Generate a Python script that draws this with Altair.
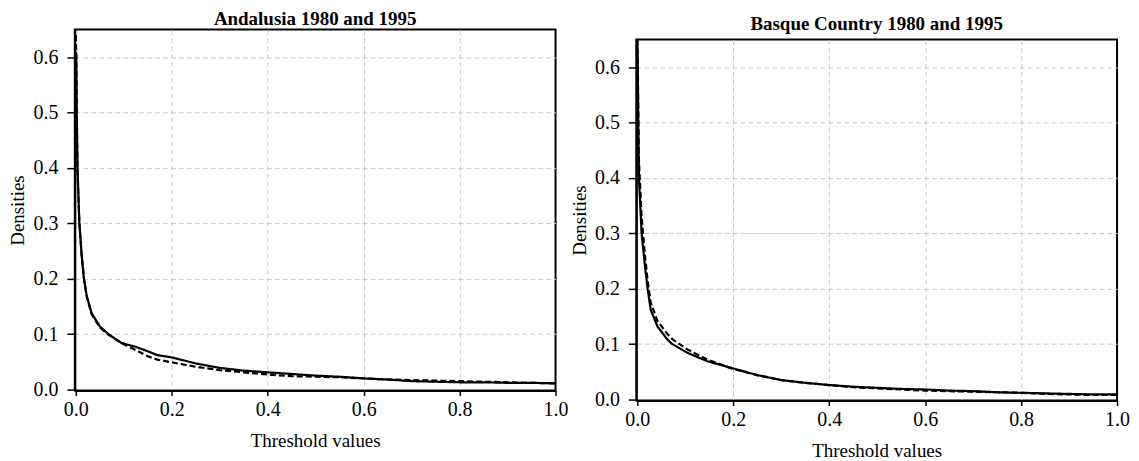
import altair as alt
import pandas as pd

# Andalusia
and_x = [0.0, 0.001, 0.002, 0.0035, 0.0075, 0.0125, 0.017, 0.023, 0.033, 0.05, 0.068, 0.095,
         0.125, 0.15, 0.17, 0.2, 0.25, 0.3, 0.35, 0.4, 0.45, 0.5, 0.55, 0.6, 0.65, 0.7, 0.75,
         0.8, 0.85, 0.9, 0.95, 1.0]
and_1995 = [0.61, 0.60, 0.50, 0.40, 0.30, 0.24, 0.20, 0.168, 0.138, 0.114, 0.100, 0.084,
            0.077, 0.069, 0.062, 0.058, 0.047, 0.039, 0.034, 0.031, 0.028, 0.025, 0.023, 0.020,
            0.018, 0.015, 0.014, 0.013, 0.013, 0.012, 0.012, 0.011]
and_1980 = [0.64, 0.61, 0.50, 0.40, 0.30, 0.24, 0.20, 0.168, 0.136, 0.112, 0.099, 0.084,
            0.071, 0.060, 0.054, 0.049, 0.041, 0.035, 0.031, 0.027, 0.024, 0.023, 0.022, 0.020,
            0.018, 0.017, 0.016, 0.015, 0.014, 0.013, 0.012, 0.011]

# Basque Country
bas_x = [0.0, 0.001, 0.002, 0.0035, 0.009, 0.016, 0.0215, 0.028, 0.042, 0.063, 0.073, 0.105,
         0.146, 0.2, 0.25, 0.3, 0.35, 0.4, 0.45, 0.5, 0.55, 0.6, 0.65, 0.7, 0.75, 0.8, 0.85,
         0.9, 0.95, 1.0]
bas_1995 = [0.65, 0.60, 0.50, 0.40, 0.30, 0.241, 0.20, 0.162, 0.132, 0.108, 0.100, 0.084,
            0.069, 0.056, 0.044, 0.035, 0.030, 0.026, 0.023, 0.021, 0.019, 0.018, 0.016,
            0.015, 0.013, 0.012, 0.011, 0.010, 0.009, 0.009]
bas_1980 = [0.65, 0.62, 0.53, 0.43, 0.33, 0.26, 0.215, 0.175, 0.142, 0.118, 0.109, 0.090,
            0.072, 0.055, 0.044, 0.035, 0.030, 0.026, 0.022, 0.020, 0.018, 0.016, 0.015,
            0.014, 0.013, 0.012, 0.010, 0.009, 0.008, 0.008]

x_ticks = [0.0, 0.2, 0.4, 0.6, 0.8, 1.0]
y_ticks = [0.0, 0.1, 0.2, 0.3, 0.4, 0.5, 0.6]
FONT = "Liberation Serif"

HIDE_EDGE_GRID = {"condition": {"test": "datum.value == 0 || datum.value == 1", "value": 0},
                  "value": 1}


def panel(xs, s95, s80, title_text):
    n = len(xs)
    df = pd.DataFrame({
        "x": xs + xs,
        "y": s95 + s80,
        "series": ["1995"] * n + ["1980"] * n,
        "order": list(range(n)) * 2,
    })
    return alt.Chart(df).mark_line(color="black", strokeWidth=2.2).encode(
        x=alt.X("x:Q",
                scale=alt.Scale(domain=[-0.002, 1.0], nice=False, zero=False),
                axis=alt.Axis(title="Threshold values", values=x_ticks, format=".1f",
                              tickSize=5, labelPadding=4, titlePadding=12,
                              labelFlush=False, gridOpacity=HIDE_EDGE_GRID)),
        y=alt.Y("y:Q",
                scale=alt.Scale(domain=[-0.002, 0.65], nice=False, zero=False),
                axis=alt.Axis(title="Densities", values=y_ticks, format=".1f",
                              tickSize=8, labelPadding=9, titlePadding=5,
                              labelFlush=False, gridOpacity=HIDE_EDGE_GRID)),
        strokeDash=alt.StrokeDash("series:N",
                                  scale=alt.Scale(domain=["1995", "1980"],
                                                  range=[[1, 0], [6, 3]]),
                                  legend=None),
        order="order:Q",
    ).properties(
        width=482, height=362,
        title=alt.TitleParams(text=title_text, font=FONT, fontSize=19, fontWeight="bold",
                              anchor="middle", offset=1, color="black"),
    )


left = panel(and_x, and_1995, and_1980, "Andalusia 1980 and 1995")
right = panel(bas_x, bas_1995, bas_1980, "Basque Country 1980 and 1995")

spacer = alt.Chart(pd.DataFrame({"v": [0]})).mark_point(opacity=0).encode(
    x=alt.value(0), y=alt.value(0)
).properties(width=482, height=1, view=alt.ViewBackground(strokeOpacity=0))

right_col = alt.vconcat(spacer, right, spacing=9, bounds="flush")

chart = alt.hconcat(left, right_col, spacing=81, bounds="flush").properties(
    padding={"left": 0, "top": 0, "right": 0, "bottom": 0}
).configure_view(
    stroke="black", strokeWidth=2
).configure_axis(
    labelFont=FONT, titleFont=FONT, labelFontSize=20, titleFontSize=19,
    titleFontWeight="normal", labelColor="black", titleColor="black",
    domainColor="black", domainWidth=2, tickColor="black", tickWidth=1.5,
    gridColor="#c8c8c8", gridDash=[5, 3], gridWidth=1
)

chart.save("out.html", embed_options={"renderer": "svg", "actions": False})
